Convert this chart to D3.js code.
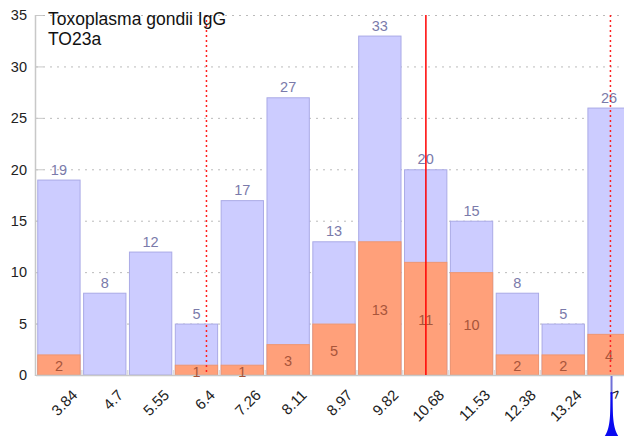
<!DOCTYPE html>
<html><head><meta charset="utf-8">
<script src="https://cdn.jsdelivr.net/npm/d3@7"></script>
<style>body{margin:0;background:#fff}svg{display:block}</style>
</head><body><svg id="c" width="624" height="436"></svg>
<script>
const categories = ["3.84","4.7","5.55","6.4","7.26","8.11","8.97","9.82","10.68","11.53","12.38","13.24",">"];
const totalValues = [19,8,12,5,17,27,13,33,20,15,8,5,26];
const positiveValues = [2,0,0,1,1,3,5,13,11,10,2,2,4];
const yTicks = [0,5,10,15,20,25,30,35];
const dottedCutoffs = [6.59, 14.12];
const solidCutoffs = [10.68];
const markerValue = 14.14;
const titleLines = ["Toxoplasma gondii IgG","TO23a"];

(function(){
const svg = d3.select("#c");
const W = 624, H = 436;
const mLeft = 36, mRight = 632, mTop = 15, mBottom = 375;
const font = "'Liberation Sans', Arial, sans-serif";

const x = d3.scaleBand().domain(categories).range([mLeft, mRight]).paddingInner(0.055).paddingOuter(0.0275);
const y = d3.scaleLinear().domain([0,35]).range([mBottom, mTop]);
const xv = d3.scaleLinear().domain([3.84, 13.24])
  .range([x(categories[0]) + x.bandwidth()/2, x(categories[11]) + x.bandwidth()/2]);

svg.append("g").selectAll("line").data(yTicks.filter(d=>d>0)).join("line")
  .attr("x1", mLeft).attr("x2", W).attr("y1", d=>y(d)+0.5).attr("y2", d=>y(d)+0.5)
  .attr("stroke", "#bbb").attr("stroke-dasharray", "2,5");
svg.append("g").selectAll("line").data(yTicks).join("line")
  .attr("x1", mLeft).attr("x2", mLeft+7).attr("y1", d=>y(d)+0.5).attr("y2", d=>y(d)+0.5)
  .attr("stroke", "#c8c8c8");
svg.append("g").selectAll("text").data(yTicks).join("text")
  .attr("x", 27).attr("y", d=>y(d)).attr("dy", "0.36em").attr("text-anchor", "end")
  .attr("font-family", font).attr("font-size", 14.5).attr("fill", "#222").text(d=>d);

const bars = svg.append("g");
bars.selectAll("rect.tot").data(categories).join("rect").attr("class","tot")
  .attr("x", d=>x(d)+0.5).attr("width", x.bandwidth()-1)
  .attr("y", (d,i)=>y(totalValues[i])+0.5).attr("height", (d,i)=>y(0)-y(totalValues[i])-0.5)
  .attr("fill", "#ccccff").attr("stroke", "#aaaae6").attr("stroke-width", 1);
bars.selectAll("rect.pos").data(categories).join("rect").attr("class","pos")
  .attr("x", d=>x(d)+0.5).attr("width", x.bandwidth()-1)
  .attr("y", (d,i)=>y(positiveValues[i])+0.5).attr("height", (d,i)=>Math.max(0, y(0)-y(positiveValues[i])-0.5))
  .attr("fill", "#ffa07a").attr("stroke", "#ee9670").attr("stroke-width", 1)
  .attr("display", (d,i)=>positiveValues[i] > 0 ? null : "none");

svg.append("line").attr("x1", mLeft-0.5).attr("x2", mLeft-0.5).attr("y1", mTop).attr("y2", mBottom+1)
  .attr("stroke", "#c8c8c8").attr("stroke-width", 1.5);
svg.append("line").attr("x1", mLeft).attr("x2", W).attr("y1", mBottom+0.5).attr("y2", mBottom+0.5)
  .attr("stroke", "#c8c8c8").attr("stroke-width", 1.5);
svg.append("g").selectAll("line").data(categories.slice(1)).join("line")
  .attr("x1", d=>x(d)-x.step()*0.0275).attr("x2", d=>x(d)-x.step()*0.0275)
  .attr("y1", mBottom-5).attr("y2", mBottom).attr("stroke", "#ddd").attr("stroke-width", 1.5);

svg.append("g").selectAll("text").data(categories).join("text")
  .attr("x", d=>x(d)+x.bandwidth()/2).attr("y", (d,i)=>y(totalValues[i])-5)
  .attr("text-anchor", "middle").attr("font-family", font).attr("font-size", 14.5)
  .attr("fill", "#7a7aaa").text((d,i)=>totalValues[i]);
svg.append("g").selectAll("text").data(categories.filter((d,i)=>positiveValues[i]>0)).join("text")
  .attr("x", d=>x(d)+x.bandwidth()/2)
  .attr("y", d=>{const v=positiveValues[categories.indexOf(d)]; return (y(v)+y(0))/2 + 1.5;})
  .attr("dy", "0.36em")
  .attr("text-anchor", "middle").attr("font-family", font).attr("font-size", 14.5)
  .attr("fill", "#a8553a").text(d=>positiveValues[categories.indexOf(d)]);

svg.append("g").selectAll("line").data(dottedCutoffs).join("line")
  .attr("x1", d=>xv(d)).attr("x2", d=>xv(d)).attr("y1", mTop).attr("y2", mBottom)
  .attr("stroke", "#ff2020").attr("stroke-width", 1.5).attr("stroke-dasharray", "2,3");
svg.append("g").selectAll("line").data(solidCutoffs).join("line")
  .attr("x1", d=>xv(d)).attr("x2", d=>xv(d)).attr("y1", mTop).attr("y2", mBottom)
  .attr("stroke", "#ff0000").attr("stroke-width", 1.5);

svg.append("g").selectAll("text").data(categories).join("text")
  .attr("transform", (d,i)=>{
    const last = i===categories.length-1;
    const cx = x(d)+x.bandwidth()/2 + (last ? 13 : 19.5);
    const cy = mBottom + (last ? 19 : 21);
    return `translate(${cx},${cy}) rotate(-45)`;
  })
  .attr("text-anchor", "end").attr("font-family", font).attr("font-size", 15)
  .attr("fill", "#222").text(d=>d);

const mx = xv(markerValue);
svg.append("line").attr("x1", mx).attr("x2", mx).attr("y1", mBottom+1).attr("y2", H)
  .attr("stroke", "#7070d8").attr("stroke-width", 2);
const ys = d3.range(392, H+1, 1);
const shape = ys.map(v=>[v, 0.9 + 5.8*Math.exp(-(H-v)/9)]);
const area = d3.area().y(d=>d[0]).x0(d=>mx-d[1]).x1(d=>mx+d[1]);
svg.append("path").attr("d", area(shape)).attr("fill", "#0a0af0");

svg.append("g").selectAll("text").data(titleLines).join("text")
  .attr("x", 48).attr("y", (d,i)=>25+i*20)
  .attr("font-family", font).attr("font-size", 17.5).attr("fill", "#111").text(d=>d);
})();
</script></body></html>
